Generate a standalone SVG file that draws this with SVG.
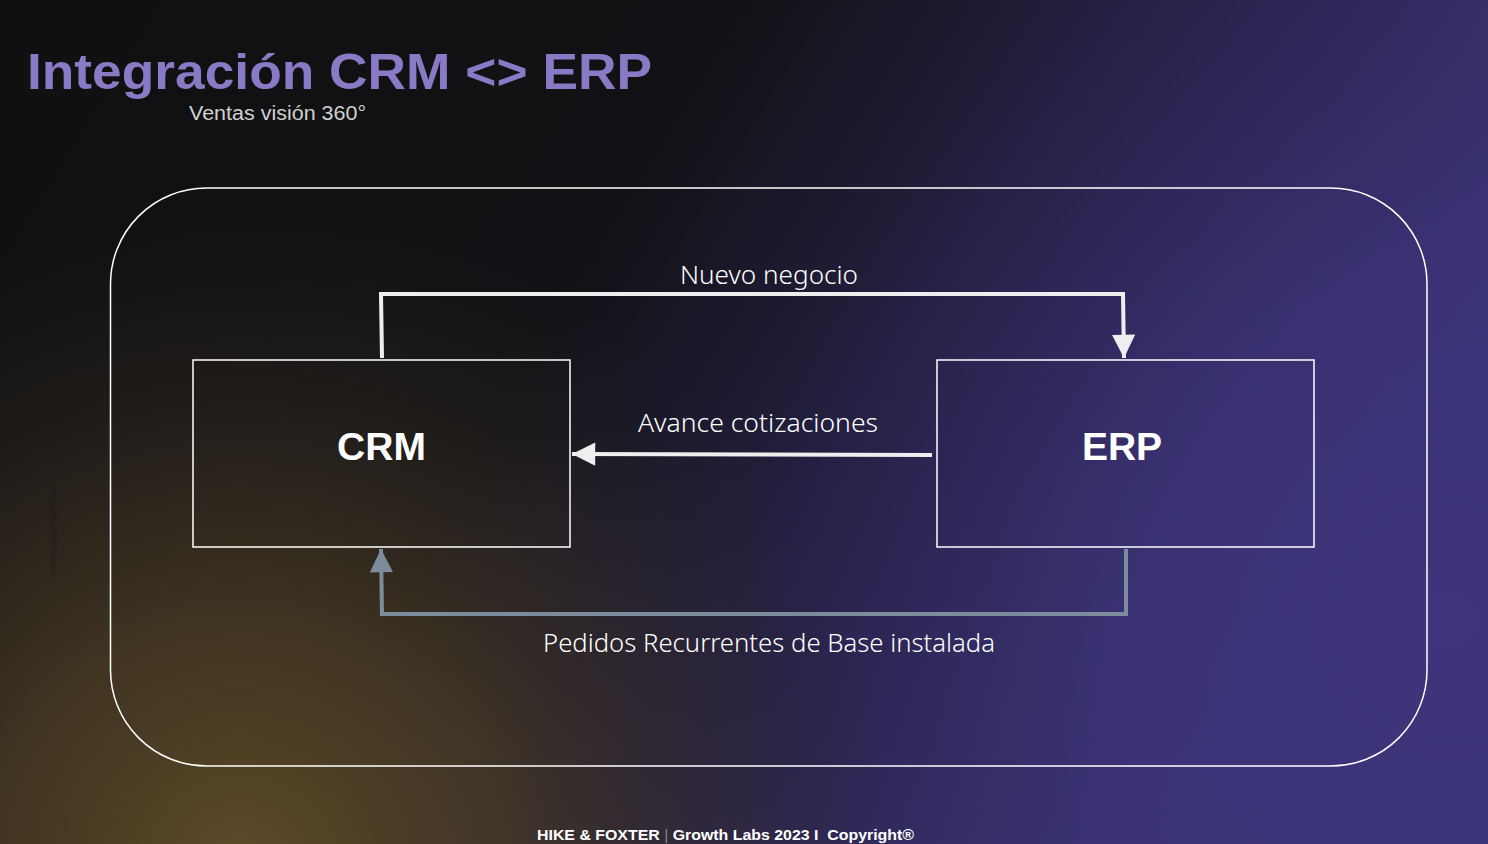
<svg xmlns="http://www.w3.org/2000/svg" width="1488" height="844" viewBox="0 0 1488 844">
<defs>
<linearGradient id="bg" x1="0" y1="0" x2="1" y2="0.35">
<stop offset="0" stop-color="#101010"/>
<stop offset="0.45" stop-color="#121216"/>
<stop offset="0.72" stop-color="#28234c"/>
<stop offset="1" stop-color="#3e357c"/>
</linearGradient>
<radialGradient id="gold" cx="240" cy="870" r="660" gradientUnits="userSpaceOnUse">
<stop offset="0" stop-color="#5e4c28" stop-opacity="1"/>
<stop offset="0.4" stop-color="#4a3c24" stop-opacity="0.78"/>
<stop offset="1" stop-color="#2a2420" stop-opacity="0"/>
</radialGradient>
<radialGradient id="purp" cx="1450" cy="620" r="700" gradientUnits="userSpaceOnUse">
<stop offset="0" stop-color="#3e357c" stop-opacity="1"/>
<stop offset="0.5" stop-color="#3a3274" stop-opacity="0.6"/>
<stop offset="1" stop-color="#2a2550" stop-opacity="0"/>
</radialGradient>
<marker id="ahW" viewBox="0 0 10 10" refX="10" refY="5" markerWidth="7.5" markerHeight="5.8" markerUnits="strokeWidth" orient="auto">
<path d="M0,0 L10,5 L0,10 z" fill="#eeeeee"/>
</marker>
<marker id="ahG" viewBox="0 0 10 10" refX="10" refY="5" markerWidth="7.5" markerHeight="5.8" markerUnits="strokeWidth" orient="auto">
<path d="M0,0 L10,5 L0,10 z" fill="#7c8c9c"/>
</marker>
</defs>
<style>
.box{fill:none;stroke:#ffffff;stroke-width:1.5}
.nodelabel{font-family:"Liberation Sans",Arial,sans-serif;font-weight:bold;font-size:39px;fill:#ffffff;text-anchor:middle}
.elabel{font-family:"Noto Sans","Open Sans",sans-serif;font-weight:300;font-size:25px;fill:#ffffff;text-anchor:middle}
.w{fill:none;stroke:#eeeeee;stroke-width:4}
.g{fill:none;stroke:#7c8c9c;stroke-width:4}
</style>
<rect x="0" y="0" width="1488" height="844" fill="url(#bg)"/>
<rect x="0" y="0" width="1488" height="844" fill="url(#purp)"/>
<rect x="0" y="0" width="1488" height="844" fill="url(#gold)"/>

<g id="title">
<text x="27" y="89" font-family="'Liberation Sans',Arial,sans-serif" font-weight="bold" font-size="50" fill="#8a79c4" textLength="625" lengthAdjust="spacingAndGlyphs">Integración CRM &lt;&gt; ERP</text>
<text x="189" y="120" font-family="'Liberation Sans',Arial,sans-serif" font-size="20" fill="#d0d0d0" textLength="177" lengthAdjust="spacingAndGlyphs">Ventas visión 360°</text>
</g>

<g id="side-label">
<text transform="translate(56,576) rotate(-90)" font-family="'Liberation Sans',Arial,sans-serif" font-weight="bold" font-size="7" fill="#1a1a1a" opacity="0.6">NOMBRE DEL PROYECTO</text>
</g>

<g id="frame">
<rect x="110.5" y="188" width="1316.5" height="578" rx="96" ry="96" class="box"/>
</g>

<g id="crm">
<rect x="193" y="360" width="377" height="187" class="box"/>
<text x="381.5" y="460" class="nodelabel">CRM</text>
</g>

<g id="erp">
<rect x="937" y="360" width="377" height="187" class="box"/>
<text x="1122" y="460" class="nodelabel">ERP</text>
</g>

<g id="connectors">
<path d="M382,358 L381,294 L1123,294 L1124,358" class="w" marker-end="url(#ahW)"/>
<text x="769" y="284" class="elabel" textLength="178" lengthAdjust="spacingAndGlyphs">Nuevo negocio</text>
<path d="M932,455 L572,454" class="w" marker-end="url(#ahW)"/>
<text x="758" y="432" class="elabel" textLength="240" lengthAdjust="spacingAndGlyphs">Avance cotizaciones</text>
<path d="M1126,549 L1126,614 L382,614 L381,549" class="g" marker-end="url(#ahG)"/>
<text x="769" y="652" class="elabel" textLength="452" lengthAdjust="spacingAndGlyphs">Pedidos Recurrentes de Base instalada</text>
</g>

<g id="footer">
<text x="537" y="840" font-family="'Liberation Sans',Arial,sans-serif" font-weight="bold" font-size="15.5" fill="#ffffff" textLength="377" lengthAdjust="spacingAndGlyphs">HIKE &amp; FOXTER <tspan fill="#888888" font-weight="normal">|</tspan> Growth Labs 2023 I&#160; Copyright®</text>
</g>
</svg>
